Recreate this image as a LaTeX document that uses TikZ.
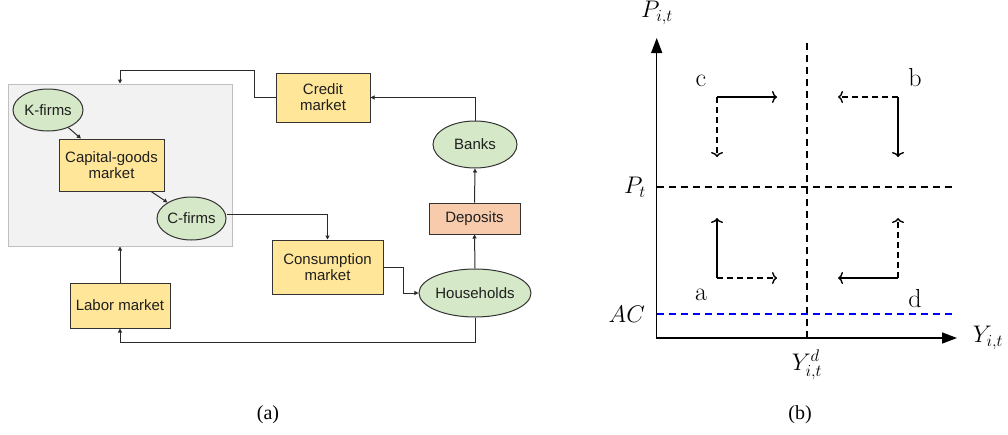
\documentclass[tikz,border=0pt]{standalone}
\usepackage{fix-cm}
\usepackage{fontspec}
\newfontfamily\arialf{Liberation Sans}
\newfontfamily\timesf{Liberation Serif}
\usetikzlibrary{arrows.meta,shapes.geometric}
\definecolor{boxyellow}{HTML}{FFE699}
\definecolor{ellgreen}{HTML}{D5E8C8}
\definecolor{peach}{HTML}{F8CBAD}
\definecolor{grayfill}{HTML}{F2F2F2}
\definecolor{grayline}{HTML}{BFBFBF}
\definecolor{lineclr}{HTML}{2A2A2A}
\tikzset{
  lnode/.style={font=\arialf\fontsize{15}{17}\selectfont, text=black!88, draw=black!80, line width=1pt, inner sep=0pt, align=center},
  ybox/.style={lnode, rectangle, fill=boxyellow},
  pbox/.style={lnode, rectangle, fill=peach},
  gell/.style={lnode, ellipse, fill=ellgreen},
  conn/.style={draw=lineclr, line width=1pt, -{Triangle[length=4pt,width=4pt]}},
  axisline/.style={line width=1.4pt, {Triangle[length=15pt,width=11pt]}-{Triangle[length=15pt,width=11pt]}},
  guide/.style={line width=1.3pt, dash pattern=on 7pt off 5pt},
  solidarr/.style={line width=1.4pt, -{Computer Modern Rightarrow[length=5pt,width=12pt]}},
  dasharr/.style={solidarr, dash pattern=on 6pt off 4pt},
  mlab/.style={font=\fontsize{24}{28}\selectfont, inner sep=0pt},
  letlab/.style={font=\fontsize{26}{30}\selectfont, inner sep=0pt},
  captext/.style={font=\timesf\fontsize{20}{24}\selectfont, inner sep=0pt}
}
\begin{document}
\begin{tikzpicture}[x=1pt,y=-1pt]
\useasboundingbox (0,0) rectangle (1008,434);
% ---------- (a) ----------
\node[draw=grayline, fill=grayfill, line width=1pt, minimum width=224pt, minimum height=162pt, inner sep=0pt] (grp) at (120,165) {};
\node[gell, minimum width=70pt, minimum height=42pt] (kf) at (48,110) {K-firms};
\node[ybox, minimum width=105pt, minimum height=52pt] (cgm) at (111.5,165) {Capital-goods\\[-1pt]market};
\node[gell, minimum width=69pt, minimum height=43pt] (cf) at (191.5,218.5) {C-firms};
\node[ybox, minimum width=94pt, minimum height=49pt] (cred) at (323,97.5) {Credit\\[-1pt]market};
\node[gell, minimum width=84pt, minimum height=47pt] (banks) at (475,144.5) {Banks};
\node[pbox, minimum width=91pt, minimum height=31pt] (dep) at (474.5,218.5) {Deposits};
\node[ybox, minimum width=111pt, minimum height=54pt] (cons) at (327.5,267) {Consumption\\[-1pt]market};
\node[gell, minimum width=110pt, minimum height=48pt] (hh) at (475,293) {Households};
\node[ybox, minimum width=100pt, minimum height=45pt] (labor) at (120,305.5) {Labor market};

\draw[conn] (kf) -- (cgm);
\draw[conn] (cgm) -- (cf);
\draw[conn] (cred.west) -| (254,70) -| (grp.north);
\draw[conn] (banks.north) |- (cred.east);
\draw[conn] (dep.north) -- (banks.south);
\draw[conn] (hh.north) -- (dep.south);
\draw[conn] ([yshift=4pt]cf.east) -| (cons.north);
\draw[conn] (cons.east) -- ++(20,0) |- (hh.west);
\draw[conn] (hh.south) -- ++(0,25) -| (labor.south);
\draw[conn] (labor.north) -- (grp.south);

\node[captext] (capa) at (268,415) {(a)};

% ---------- (b) ----------
\coordinate (O) at (656.7,338);
\coordinate (ytop) at (656.7,38);
\coordinate (xend) at (957,338);
\draw[axisline] (ytop) -- (O) -- (xend);
\coordinate (vtop) at (807,43);
\coordinate (vbot) at (807,338);
\draw[guide] (vtop) -- (vbot);
\coordinate (pl) at (656.7,187);
\coordinate (pr) at (952,187);
\draw[guide] (pl) -- (pr);
\coordinate (acl) at (656.7,314);
\coordinate (acr) at (952,314);
\draw[guide, blue] (acl) -- (acr);

\node[mlab] (ylab) at (657,13) {$P_{i,t}$};
\node[mlab, anchor=east] (ptlab) at (646,187) {$P_t$};
\node[mlab, anchor=east] (aclab) at (645,314) {$AC$};
\node[mlab] (xlab) at (988,338) {$Y_{i,t}$};
\node[mlab] (ydlab) at (807,365) {$Y^d_{i,t}$};

% arrows c
\coordinate (cc) at (717,97);
\coordinate (cr) at (777,97);
\coordinate (cd) at (717,157);
\draw[solidarr] (cc) -- (cr);
\draw[dasharr] (cc) -- (cd);
% arrows b
\coordinate (bc) at (898,97);
\coordinate (bl) at (838,97);
\coordinate (bd) at (898,157);
\draw[dasharr] (bc) -- (bl);
\draw[solidarr] (bc) -- (bd);
% arrows a
\coordinate (ac) at (717,278);
\coordinate (au) at (717,218);
\coordinate (ar) at (777,278);
\draw[solidarr] (ac) -- (au);
\draw[dasharr] (ac) -- (ar);
% arrows d
\coordinate (dc) at (898,278);
\coordinate (du) at (898,218);
\coordinate (dl) at (838,278);
\draw[dasharr] (dc) -- (du);
\draw[solidarr] (dc) -- (dl);

\node[letlab, anchor=base] (lc) at (701,86) {c};
\node[letlab, anchor=base] (lb) at (915,86) {b};
\node[letlab, anchor=base] (la) at (701,300) {a};
\node[letlab, anchor=base] (ld) at (915,307) {d};

\node[captext] (capb) at (800,415) {(b)};
\end{tikzpicture}
\end{document}
